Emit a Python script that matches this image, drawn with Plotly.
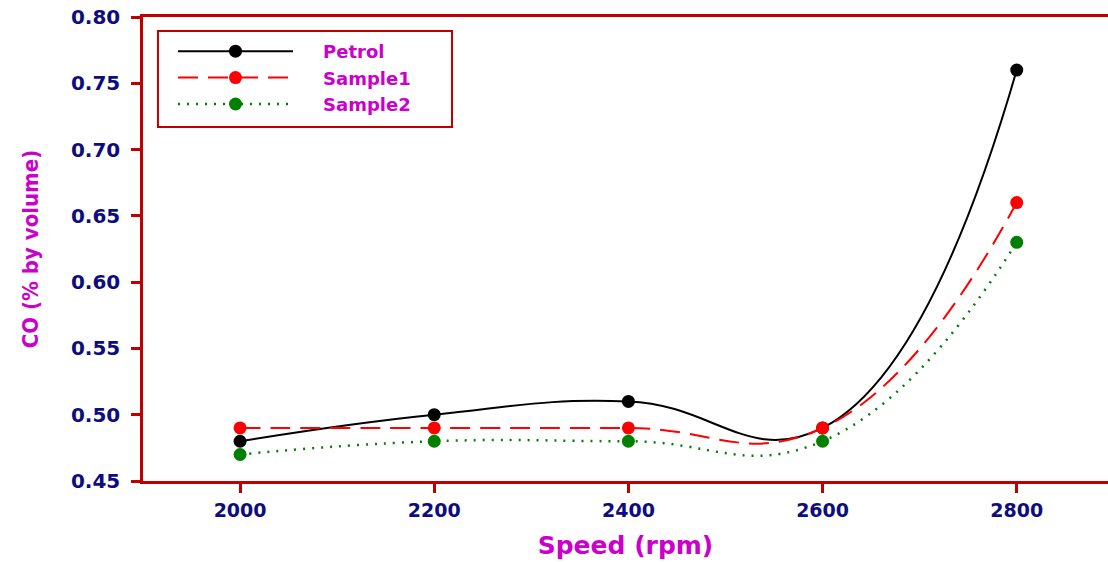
import plotly.graph_objects as go

speed = [2000, 2200, 2400, 2600, 2800]
petrol = [0.48, 0.50, 0.51, 0.49, 0.76]
sample1 = [0.49, 0.49, 0.49, 0.49, 0.66]
sample2 = [0.47, 0.48, 0.48, 0.48, 0.63]
series_names = ["Petrol", "Sample1", "Sample2"]
y_ticks = [0.45, 0.50, 0.55, 0.60, 0.65, 0.70, 0.75, 0.80]
x_ticks = [2000, 2200, 2400, 2600, 2800]

AXIS = "#c00000"
NAVY = "#0d0d80"
MAG = "#cc00cc"
PAD = "\u00a0" * 4

fig = go.Figure()
fig.add_trace(go.Scatter(x=speed, y=petrol, name=PAD + series_names[0], mode="lines+markers",
                         line=dict(color="black", width=2, shape="spline", smoothing=1.3),
                         marker=dict(color="black", size=13)))
fig.add_trace(go.Scatter(x=speed, y=sample1, name=PAD + series_names[1], mode="lines+markers",
                         line=dict(color="red", width=2, dash="20px,10px", shape="spline", smoothing=1.3),
                         marker=dict(color="red", size=13)))
fig.add_trace(go.Scatter(x=speed, y=sample2, name=PAD + series_names[2], mode="lines+markers",
                         line=dict(color="green", width=2.5, dash="2px,7px", shape="spline", smoothing=1.3),
                         marker=dict(color="green", size=13)))

# legend frame
fig.add_shape(type="rect", xref="paper", yref="paper",
              x0=0.0155, x1=0.3202, y0=0.7629, y1=0.9698,
              line=dict(color=AXIS, width=2), fillcolor="rgba(0,0,0,0)")

fig.update_layout(
    width=1108, height=562,
    margin=dict(l=143, r=0, t=17, b=81),
    plot_bgcolor="white", paper_bgcolor="white",
    showlegend=True,
    legend=dict(x=(173 - 143) / 965, y=0.9655, xanchor="left", yanchor="top",
                borderwidth=0, bgcolor="rgba(0,0,0,0)",
                itemwidth=115,
                font=dict(family="DejaVu Sans", size=18, color=MAG, weight="bold")),
    xaxis=dict(range=[1900, 2894], tickvals=x_ticks, ticktext=[str(v) for v in x_ticks],
               showgrid=False, zeroline=False, showline=True, linecolor=AXIS, linewidth=2.5,
               mirror=True, ticks="outside", tickcolor=AXIS, ticklen=9, tickwidth=2.5,
               ticklabelstandoff=1,
               tickfont=dict(family="DejaVu Sans", size=19, color=NAVY, weight="bold"),
               title=dict(text="Speed (rpm)", standoff=17,
                          font=dict(family="DejaVu Sans", size=25, color=MAG, weight="bold"))),
    yaxis=dict(range=[0.45, 0.80], tickvals=y_ticks, ticktext=["%.2f" % v for v in y_ticks],
               showgrid=False, zeroline=False, showline=True, linecolor=AXIS, linewidth=2.5,
               ticks="outside", tickcolor=AXIS, ticklen=9, tickwidth=2.5,
               ticklabelstandoff=7,
               tickfont=dict(family="DejaVu Sans", size=20, color=NAVY, weight="bold"),
               title=dict(text="CO (% by volume)", standoff=27,
                          font=dict(family="DejaVu Sans Condensed, Liberation Sans", size=22,
                                    color=MAG, weight="bold"))),
)

fig.write_html("out.html")
